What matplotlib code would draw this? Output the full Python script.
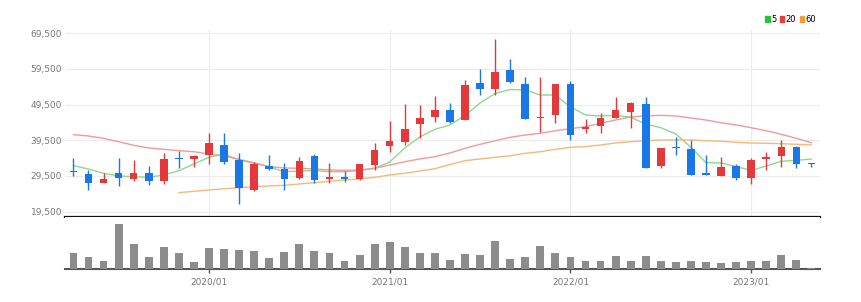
import numpy as np
import pandas as pd
import matplotlib.pyplot as plt
from matplotlib.patches import Patch

plt.rcParams['font.family'] = ['Liberation Sans Narrow', 'DejaVu Sans']

# monthly candles, 2019/04 ~ 2023/05
months = pd.period_range("2019-04", "2023-05", freq="M")

opens = [30900, 30060, 27450, 30250, 28570, 30420, 28010, 34620, 34340, 35380,
         38090, 33980, 25580, 32300, 31540, 28940, 35100, 28570, 29130, 28570,
         32580, 37900, 38930, 44060, 46100, 47980, 45180, 55450, 53860, 59180,
         55260, 45650, 46490, 55170, 42660, 43500, 45820, 47330, 49660, 32300,
         37700, 36970, 30250, 29500, 32300, 28850, 34170, 35100, 37530, 33050]
highs = [34620, 31180, 30250, 34620, 33980, 32300, 35850, 36580, 35380, 41450,
         41620, 36020, 33500, 35380, 33050, 34900, 35740, 33050, 30980, 32900,
         38820, 44980, 49660, 49380, 51980, 49850, 56380, 59370, 67770, 62170,
         57130, 57300, 55260, 56180, 45460, 47050, 51700, 50300, 51530, 37300,
         40500, 39580, 35380, 34900, 32860, 34450, 36130, 39580, 37900, 33050]
lows = [29580, 25580, 27450, 26700, 28180, 26980, 27260, 31650, 32100, 32860,
        32860, 21570, 25380, 31180, 25580, 28570, 27450, 27620, 27900, 28400,
        31180, 36300, 38180, 40050, 44700, 44250, 45180, 52180, 52180, 55450,
        45370, 41900, 44250, 39580, 41450, 41620, 45650, 42850, 31650, 31650,
        35380, 29780, 29690, 29500, 28380, 27260, 31180, 32100, 31650, 31930]
closes = [30600, 27620, 28740, 28940, 30420, 28180, 34340, 34170, 35010, 38820,
          33500, 26220, 32860, 31370, 28570, 33780, 28380, 29130, 28570, 32770,
          36780, 39380, 42660, 45650, 47980, 44700, 54980, 53770, 58700, 55900,
          45370, 46100, 55170, 40980, 43300, 45820, 47980, 50020, 31820, 37250,
          37250, 29780, 29690, 32100, 28850, 33980, 34730, 37530, 32770, 32770]

volume = [47, 37, 23, 136, 74, 35, 66, 48, 21, 62, 60, 57, 54, 33, 52, 74, 53,
          48, 25, 41, 74, 81, 66, 48, 47, 27, 44, 41, 83, 29, 35, 69, 49, 37,
          25, 25, 40, 23, 40, 23, 21, 23, 21, 19, 21, 24, 25, 42, 27, 2]

ma5 = [32380, 31460, 30250, 29500, 29300, 29130, 29780, 30980, 32860, 34730,
       35660, 33980, 33050, 32100, 30700, 30900, 31000, 30700, 30700, 31000,
       31650, 33420, 37340, 40420, 42570, 43780, 46440, 49940, 52600, 53720,
       53580, 52180, 52180, 48820, 46580, 46300, 46490, 45930, 44060, 43020,
       41260, 37530, 33220, 33140, 32160, 31040, 32300, 33610, 33890, 34260]
ma20 = [41060, 40700, 40050, 39100, 38090, 37340, 36970, 36580, 36300, 35660,
        35100, 34170, 33220, 32100, 31740, 31650, 31460, 31180, 31090, 31180,
        31650, 32580, 33500, 34260, 34900, 35940, 37250, 38370, 39380, 40330,
        40980, 41450, 42180, 42740, 43300, 44250, 45180, 46020, 46300, 46490,
        46300, 45740, 45180, 44420, 43780, 43020, 42180, 41170, 40050, 38820]
ma60 = [None] * 7 + [
        24820, 25210, 25580, 25940, 26220, 26500, 26700, 26890, 27260, 27620,
        28010, 28380, 28660, 29130, 29780, 30250, 30900, 31540, 32720, 33780,
        34260, 34730, 35180, 35850, 36300, 36970, 37530, 37700, 38180, 38740,
        39100, 39380, 39580, 39580, 39580, 39380, 39210, 38930, 38740, 38650,
        38540, 38370, 38180]

price_ticks = [19500, 29500, 39500, 49500, 59500, 69500]
ma_labels = ["5", "20", "60"]

UP, DOWN = "#e5383b", "#1a78e6"
MA_COLORS = ["#8fd88f", "#f29a9a", "#f6b87a"]
LEG_COLORS = ["#2fbf3a", "#ee3b3b", "#f39c34"]

x = np.arange(len(months))
o, h, l, c = map(np.array, (opens, highs, lows, closes))
colors = [UP if cc >= oo else DOWN for oo, cc in zip(o, c)]
year_idx = [i for i, m in enumerate(months) if m.month == 1]
year_lbl = [months[i].strftime("%Y/%m") for i in year_idx]

fig = plt.figure(figsize=(8.61, 3.02), dpi=100)
ax = fig.add_axes([65 / 861, 85 / 302, 755 / 861, 187 / 302])
axv = fig.add_axes([65 / 861, 33 / 302, 755 / 861, 52 / 302], sharex=ax)

# candles
ax.vlines(x, l, h, colors=colors, linewidth=1, zorder=3)
body = np.maximum(np.abs(c - o), 350)
ax.bar(x, body, bottom=np.minimum(o, c), width=0.5, color=colors, zorder=4)

for vals, col in zip([ma5, ma20, ma60], MA_COLORS):
    ax.plot(x, np.array(vals, dtype=float), color=col, linewidth=1.0, zorder=2)

ax.set_xlim(-0.56, 49.57)
ax.set_ylim(18016, 70376)
ax.set_yticks(price_ticks)
ax.set_yticklabels([f"{p:,}" for p in price_ticks])
ax.set_xticks(year_idx)
ax.tick_params(axis="y", length=0, pad=2, labelsize=6.5, labelcolor="#777777")
ax.tick_params(axis="x", length=0, labelbottom=False)
ax.grid(True, color="#ececec", linewidth=0.8, zorder=0)
for s in ["top", "left", "right"]:
    ax.spines[s].set_visible(False)
ax.spines["bottom"].set_color("#111111")
ax.spines["bottom"].set_linewidth(1.6)

# volume
axv.bar(x, volume, width=0.52, color="#8c8c8c", zorder=3)
axv.set_ylim(0, 156)
axv.set_yticks([])
axv.set_xticks(year_idx)
axv.set_xticklabels(year_lbl)
axv.tick_params(axis="x", length=3, width=1, color="#555555", pad=3,
                labelsize=6.5, labelcolor="#777777")
for s in ["top", "left", "right"]:
    axv.spines[s].set_visible(False)
axv.spines["bottom"].set_color("#555555")
axv.spines["bottom"].set_linewidth(1.5)

handles = [Patch(color=col, label=lb) for col, lb in zip(LEG_COLORS, ma_labels)]
fig.legend(handles=handles, loc="upper right", bbox_to_anchor=(816 / 861, 1 - 15 / 302),
           ncol=3, frameon=False, fontsize=6, handlelength=0.5, handleheight=0.7,
           handletextpad=0.2, columnspacing=0.4, borderaxespad=0, borderpad=0)

fig.savefig("out.png", dpi=100)
